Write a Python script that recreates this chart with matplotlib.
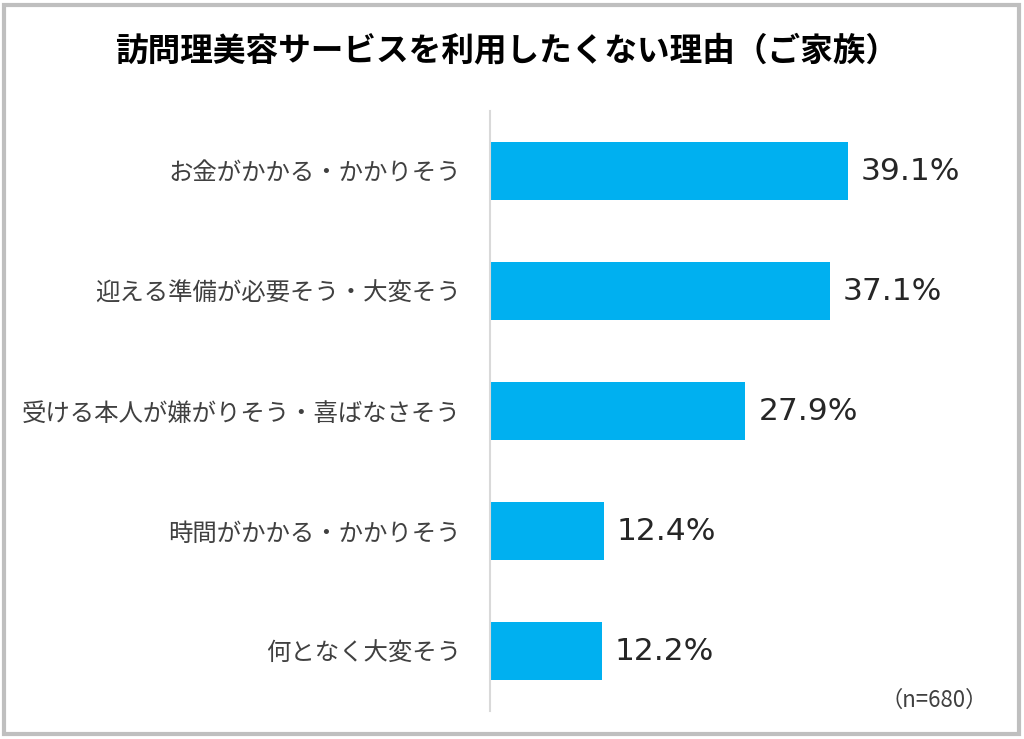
import matplotlib.pyplot as plt
from matplotlib.patches import Rectangle

plt.rcParams['font.family'] = ['Noto Sans CJK JP', 'DejaVu Sans']

title = "訪問理美容サービスを利用したくない理由（ご家族）"
categories = [
    "お金がかかる・かかりそう",
    "迎える準備が必要そう・大変そう",
    "受ける本人が嫌がりそう・喜ばなさそう",
    "時間がかかる・かかりそう",
    "何となく大変そう",
]
values = [39.1, 37.1, 27.9, 12.4, 12.2]
note = "（n=680）"

bar_color = "#00B0F0"

fig = plt.figure(figsize=(10.24, 7.39), dpi=100)
ax = fig.add_axes([490 / 1024, 1 - 711 / 739, 510 / 1024, 600 / 739])

ypos = list(range(len(categories)))
ax.barh(ypos, values, height=0.49, color=bar_color)
for y, v in zip(ypos, values):
    ax.text(v + 1.4, y, f"{v:.1f}%", va="center", ha="left",
            fontsize=22.5, color="#262626", family="DejaVu Sans")

ax.set_xlim(0, 55.7)
ax.set_ylim(len(categories) - 0.5, -0.5)
ax.set_yticks(ypos)
ax.set_yticklabels(categories, fontsize=17.6, color="#404040")
ax.tick_params(axis="y", length=0, pad=21)
ax.set_xticks([])
for side in ["top", "right", "bottom"]:
    ax.spines[side].set_visible(False)
ax.spines["left"].set_color("#D9D9D9")
ax.spines["left"].set_linewidth(1.5)

fig.text(507 / 1024, 1 - 51 / 739, title, ha="center", va="center",
         fontsize=23.5, fontweight="bold", color="black")
fig.text(988 / 1024, 1 - 700 / 739, note, ha="right", va="center",
         fontsize=16, color="#404040")

# outer frame
fig.patches.append(Rectangle((4 / 1024, 5 / 739), 1015 / 1024, 729 / 739,
                             transform=fig.transFigure, fill=False,
                             edgecolor="#BFBFBF", linewidth=3))

fig.savefig("out.png", dpi=100)
